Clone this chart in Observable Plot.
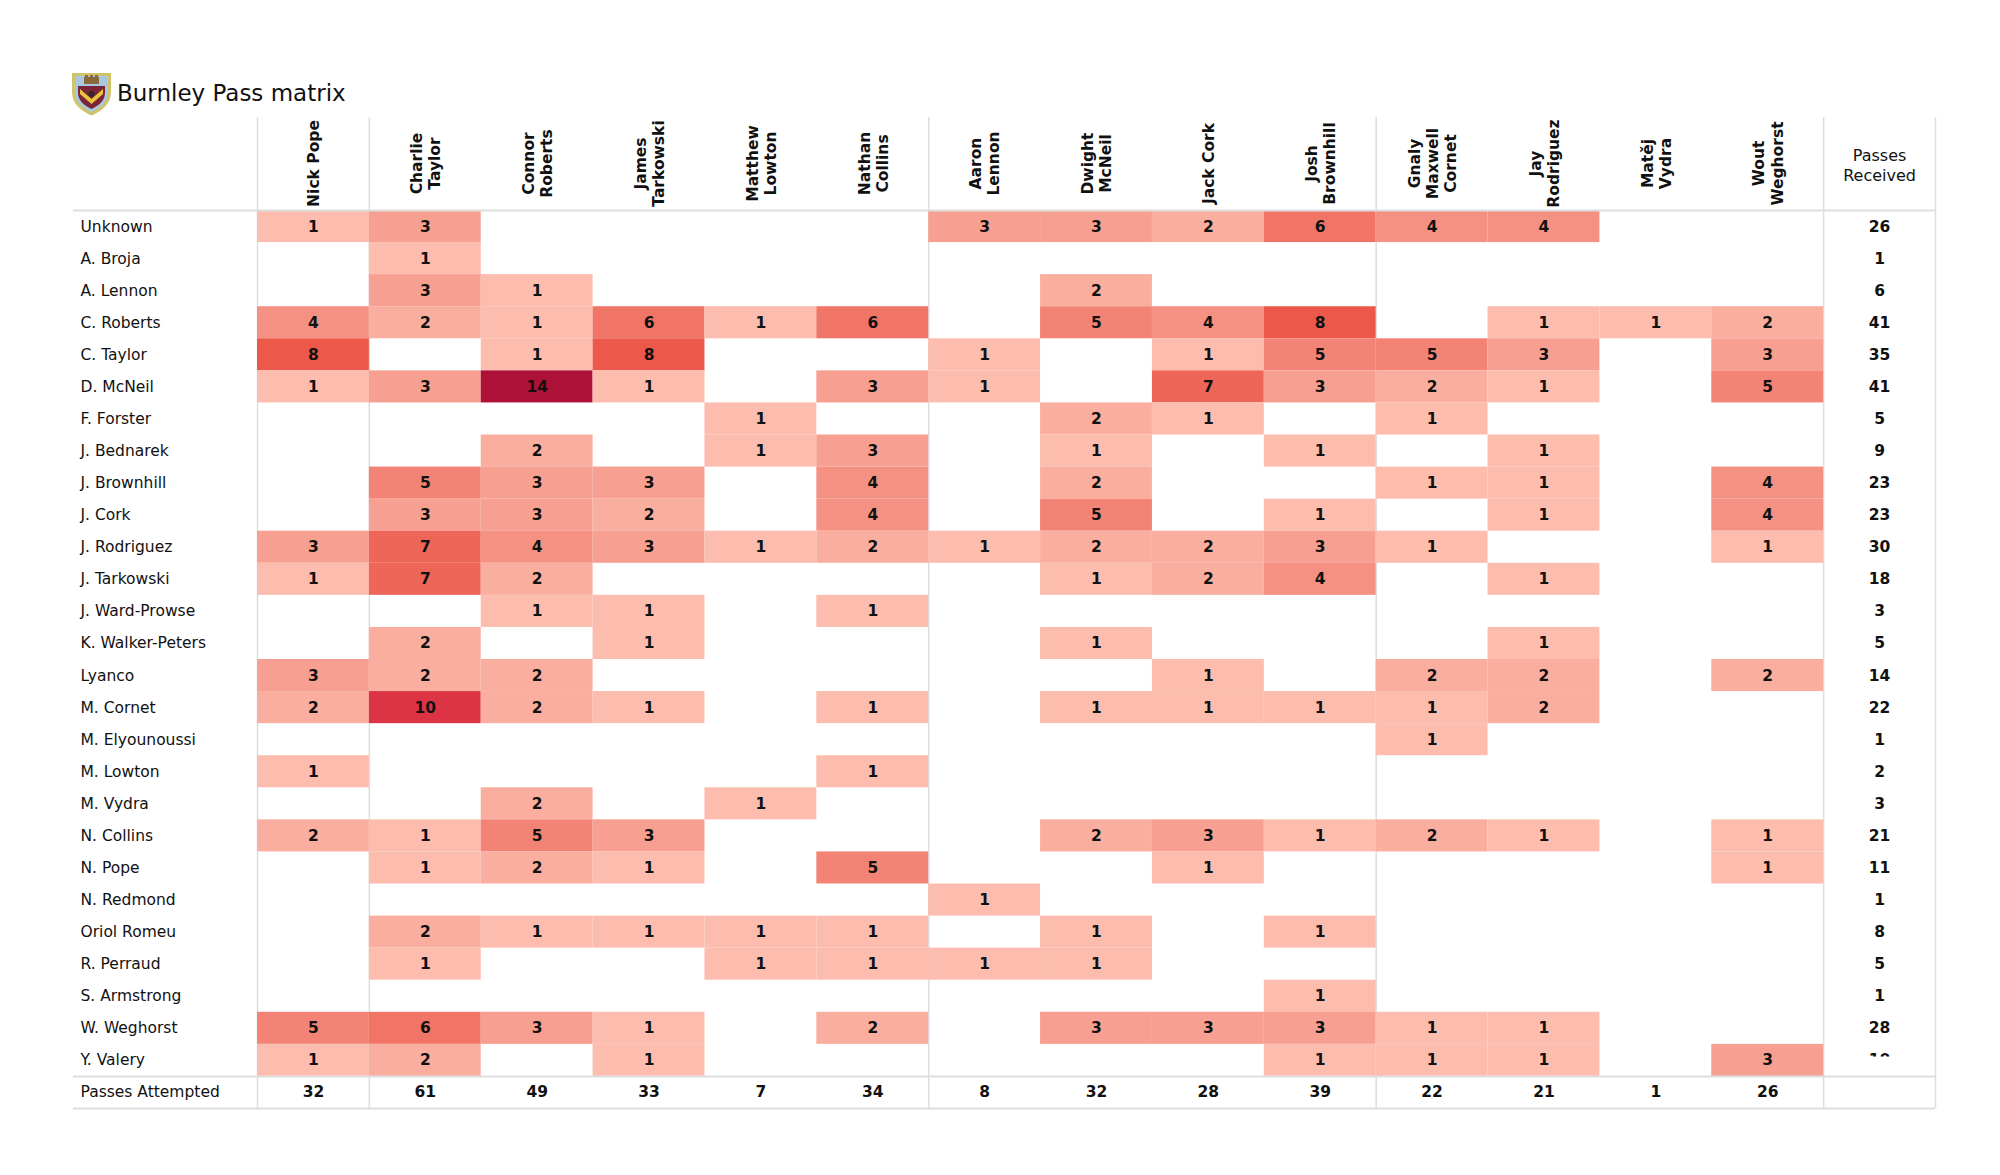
<!DOCTYPE html>
<html><head><meta charset="utf-8">
<script src="https://cdn.jsdelivr.net/npm/d3@7"></script>
<script src="https://cdn.jsdelivr.net/npm/@observablehq/plot@0.6"></script>
<style>
body{margin:0;background:#fff;width:2000px;height:1175px;overflow:hidden;font-family:"DejaVu Sans",sans-serif;}
#head{position:relative;height:110px;}
#logo{position:absolute;left:71px;top:70px;}
#title{position:absolute;left:117px;top:79px;font-size:23px;line-height:28px;color:#111;white-space:nowrap;}
#chart svg{display:block;}
</style></head><body>
<div id="head">
<svg id="logo" width="41" height="46" viewBox="0 0 41 46">
  <path d="M1 3 H40 V22 C40 34 31 41 20.5 45.5 C10 41 1 34 1 22 Z" fill="#cfc46a"/>
  <path d="M4 6 H37 V22 C37 32 29 38.5 20.5 42 C12 38.5 4 32 4 22 Z" fill="#a9c8df"/>
  <rect x="13" y="7" width="15" height="7" fill="#8a6a3a"/>
  <rect x="14" y="5" width="3" height="3" fill="#8a6a3a"/><rect x="19" y="5" width="3" height="3" fill="#8a6a3a"/><rect x="24" y="5" width="3" height="3" fill="#8a6a3a"/>
  <path d="M7 16 H34 V23 C34 31 27 36 20.5 39 C14 36 7 31 7 23 Z" fill="#7c2438"/>
  <path d="M9 19 L20.5 29 L32 19 L32 24 L20.5 34 L9 24 Z" fill="#e9c63e"/>
  <circle cx="20.5" cy="24" r="3" fill="#2b2b2b"/>
</svg>
<div id="title">Burnley Pass matrix</div>
</div>
<div id="chart"></div>
<script>
// Passers (columns)
const passers = ["Nick Pope","Charlie Taylor","Connor Roberts","James Tarkowski","Matthew Lowton","Nathan Collins","Aaron Lennon","Dwight McNeil","Jack Cork","Josh Brownhill","Gnaly Maxwell Cornet","Jay Rodriguez","Matěj Vydra","Wout Weghorst"];
const columnLabels = ["Nick Pope","Charlie\nTaylor","Connor\nRoberts","James\nTarkowski","Matthew\nLowton","Nathan\nCollins","Aaron\nLennon","Dwight\nMcNeil","Jack Cork","Josh\nBrownhill","Gnaly\nMaxwell\nCornet","Jay\nRodriguez","Matěj\nVydra","Wout\nWeghorst"];
// Receivers (rows)
const receivers = ["Unknown","A. Broja","A. Lennon","C. Roberts","C. Taylor","D. McNeil","F. Forster","J. Bednarek","J. Brownhill","J. Cork","J. Rodriguez","J. Tarkowski","J. Ward-Prowse","K. Walker-Peters","Lyanco","M. Cornet","M. Elyounoussi","M. Lowton","M. Vydra","N. Collins","N. Pope","N. Redmond","Oriol Romeu","R. Perraud","S. Armstrong","W. Weghorst","Y. Valery"];
// Pass counts: one row per receiver, one value per passer (0 = none)
const passMatrix = [
  [1,3,0,0,0,0,3,3,2,6,4,4,0,0],
  [0,1,0,0,0,0,0,0,0,0,0,0,0,0],
  [0,3,1,0,0,0,0,2,0,0,0,0,0,0],
  [4,2,1,6,1,6,0,5,4,8,0,1,1,2],
  [8,0,1,8,0,0,1,0,1,5,5,3,0,3],
  [1,3,14,1,0,3,1,0,7,3,2,1,0,5],
  [0,0,0,0,1,0,0,2,1,0,1,0,0,0],
  [0,0,2,0,1,3,0,1,0,1,0,1,0,0],
  [0,5,3,3,0,4,0,2,0,0,1,1,0,4],
  [0,3,3,2,0,4,0,5,0,1,0,1,0,4],
  [3,7,4,3,1,2,1,2,2,3,1,0,0,1],
  [1,7,2,0,0,0,0,1,2,4,0,1,0,0],
  [0,0,1,1,0,1,0,0,0,0,0,0,0,0],
  [0,2,0,1,0,0,0,1,0,0,0,1,0,0],
  [3,2,2,0,0,0,0,0,1,0,2,2,0,2],
  [2,10,2,1,0,1,0,1,1,1,1,2,0,0],
  [0,0,0,0,0,0,0,0,0,0,1,0,0,0],
  [1,0,0,0,0,1,0,0,0,0,0,0,0,0],
  [0,0,2,0,1,0,0,0,0,0,0,0,0,0],
  [2,1,5,3,0,0,0,2,3,1,2,1,0,1],
  [0,1,2,1,0,5,0,0,1,0,0,0,0,1],
  [0,0,0,0,0,0,1,0,0,0,0,0,0,0],
  [0,2,1,1,1,1,0,1,0,1,0,0,0,0],
  [0,1,0,0,1,1,1,1,0,0,0,0,0,0],
  [0,0,0,0,0,0,0,0,0,1,0,0,0,0],
  [5,6,3,1,0,2,0,3,3,3,1,1,0,0],
  [1,2,0,1,0,0,0,0,0,1,1,1,0,3]
];
const passesReceived = [26,1,6,41,35,41,5,9,23,23,30,18,3,5,14,22,1,2,3,21,11,1,8,5,1,28,10];
const passesAttempted = [32,61,49,33,7,34,8,32,28,39,22,21,1,26];
const groupStarts = ["Nick Pope","Charlie Taylor","Aaron Lennon","Gnaly Maxwell Cornet","Passes Received"];

const W = 2000, H = 1065, mt = 100, mb = 67, ml = 257, mr = 65;
const cols = [...passers, "Passes Received"];
const rowsAll = [...receivers, "Passes Attempted"];
const bw = (W - ml - mr) / cols.length;
const bh = (H - mt - mb) / rowsAll.length;

const cells = [];
receivers.forEach((r, i) => passers.forEach((p, j) => {
  const v = passMatrix[i][j];
  if (v > 0) cells.push({receiver: r, passer: p, value: v});
}));
const recvTotals = receivers.map((r, i) => ({receiver: r, value: passesReceived[i]}));
const attTotals = passers.map((p, j) => ({passer: p, value: passesAttempted[j]}));

const lineColor = "#dedede";
const numSize = 15.5;
const plot = Plot.plot({
  width: W, height: H,
  marginTop: mt, marginBottom: mb, marginLeft: ml, marginRight: mr,
  x: {type: "band", domain: cols, padding: 0, round: false, axis: null},
  y: {type: "band", domain: rowsAll, padding: 0, round: false, axis: null},
  color: {type: "linear", domain: [1, 8, 10, 14], range: ["#fcbcae", "#ec5849", "#dc3444", "#ad1137"], interpolate: "rgb"},
  style: {fontFamily: "DejaVu Sans", background: "white", color: "#111"},
  marks: [
    Plot.ruleX(groupStarts, {x: d => d, dx: -bw / 2, insetTop: -(mt - 7), stroke: lineColor, strokeWidth: 1.5}),
    Plot.ruleX(["Passes Received"], {x: d => d, dx: bw / 2, insetTop: -(mt - 7), stroke: lineColor, strokeWidth: 1.5}),
    Plot.cell(cells, {x: "passer", y: "receiver", fill: "value"}),
    Plot.ruleY(["Unknown", "Passes Attempted"], {y: d => d, dy: -bh / 2, insetLeft: -(ml - 73), stroke: lineColor, strokeWidth: 2}),
    Plot.ruleY(["Passes Attempted"], {y: d => d, dy: bh / 2, insetLeft: -(ml - 73), stroke: lineColor, strokeWidth: 2}),
    Plot.text(cells, {x: "passer", y: "receiver", text: "value", fontWeight: "bold", fontSize: numSize, fill: "#111"}),
    Plot.text(recvTotals, {x: () => "Passes Received", y: "receiver", text: "value", fontWeight: "bold", fontSize: numSize, fill: "#111", ariaDescription: "received-totals"}),
    Plot.text(attTotals, {x: "passer", y: () => "Passes Attempted", text: "value", fontWeight: "bold", fontSize: numSize, fill: "#111"}),
    Plot.text(rowsAll, {y: d => d, text: d => d, frameAnchor: "left", textAnchor: "start", dx: -(ml - 80), fontSize: 15.5, fill: "#111"}),
    Plot.text(passers, {x: d => d, text: (d, i) => columnLabels[i], frameAnchor: "top", dy: -47, rotate: -90, fontWeight: "bold", fontSize: 15.5, lineAnchor: "middle", lineHeight: 1.17, fill: "#111"}),
    Plot.text(["Passes Received"], {x: d => d, text: ["Passes\nReceived"], frameAnchor: "top", dy: -46, lineAnchor: "middle", fontSize: 16, lineHeight: 1.25, fill: "#111"})
  ]
});
document.getElementById("chart").appendChild(plot);

// The reference shows Y. Valery's received total cut off: only the top edge of its digits is visible
const svgNS = "http://www.w3.org/2000/svg";
const svg = plot.tagName.toLowerCase() === "svg" ? plot : plot.querySelector("svg");
let recvTexts = svg.querySelectorAll('g[aria-description="received-totals"] text');
if (!recvTexts.length) {
  // fallback: locate the group whose texts are exactly the received totals
  for (const g of svg.querySelectorAll("g")) {
    const ts = g.querySelectorAll(":scope > text");
    if (ts.length === passesReceived.length && Array.from(ts).every((t, i) => t.textContent === String(passesReceived[i]))) { recvTexts = ts; break; }
  }
}
if (recvTexts.length) {
  const t = recvTexts[recvTexts.length - 1];
  const bb = t.getBBox();
  const baseline = bb.y + bb.height * (0.928 / 1.164);
  const digitTop = baseline - 0.73 * numSize;
  const defs = document.createElementNS(svgNS, "defs");
  const cp = document.createElementNS(svgNS, "clipPath");
  cp.setAttribute("id", "valery-clip");
  const cr = document.createElementNS(svgNS, "rect");
  cr.setAttribute("x", bb.x - 20); cr.setAttribute("y", bb.y - 30);
  cr.setAttribute("width", bb.width + 40); cr.setAttribute("height", digitTop + 2 - (bb.y - 30));
  cp.appendChild(cr); defs.appendChild(cp); svg.insertBefore(defs, svg.firstChild);
  t.setAttribute("clip-path", "url(#valery-clip)");
}
</script>
</body></html>
